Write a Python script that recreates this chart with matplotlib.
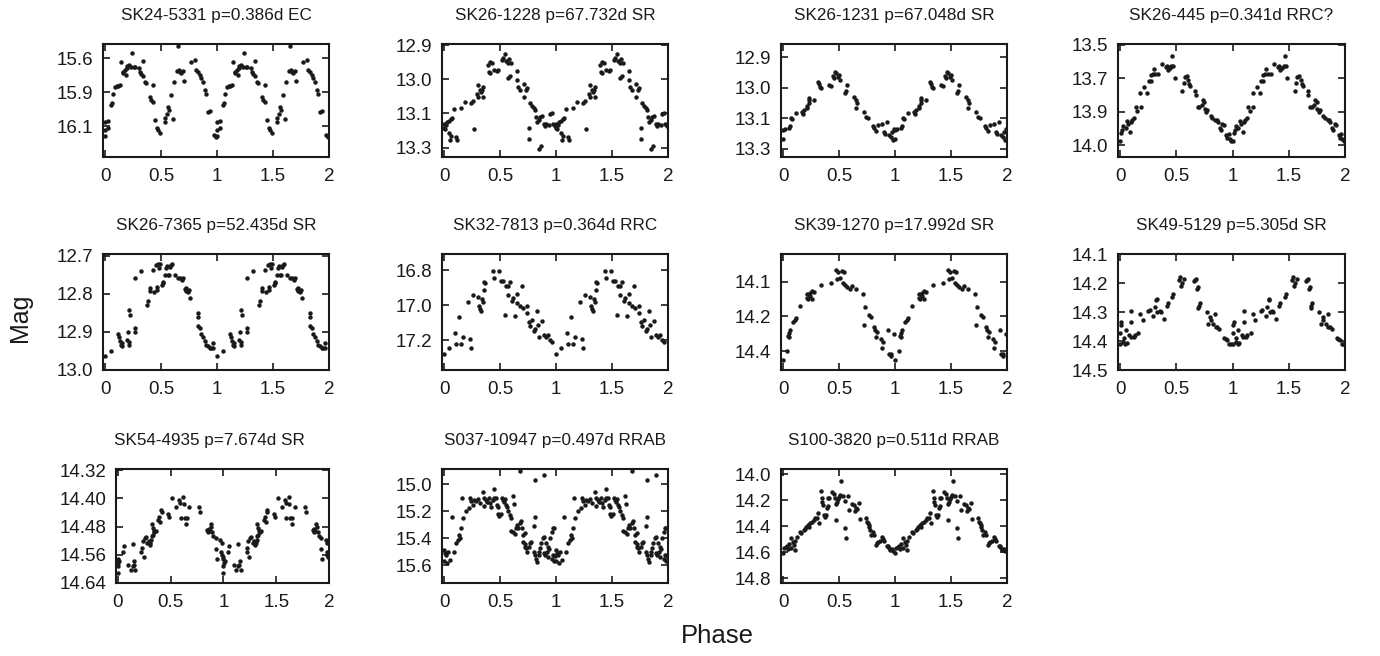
import numpy as np
import matplotlib.pyplot as plt

plt.rcParams['font.family'] = ['Liberation Sans', 'DejaVu Sans']

# folded light curves, one period each (phase, mag); shown twice on 0..2
sk24_5331 = [
    (0.00, 16.068), (0.00, 16.13), (0.00, 16.17), (0.03, 16.063), (0.025, 16.11),
    (0.055, 15.945), (0.06, 15.932), (0.07, 15.859), (0.09, 15.81), (0.105, 15.804),
    (0.12, 15.80), (0.135, 15.795), (0.145, 15.625), (0.16, 15.70), (0.165, 15.71),
    (0.175, 15.686), (0.19, 15.723), (0.195, 15.674), (0.20, 15.657), (0.215, 15.65),
    (0.23, 15.662), (0.24, 15.558), (0.255, 15.662), (0.27, 15.666), (0.30, 15.674),
    (0.31, 15.70), (0.325, 15.716), (0.335, 15.73), (0.335, 15.617), (0.355, 15.772),
    (0.37, 15.78), (0.40, 15.883), (0.415, 15.908), (0.425, 15.92), (0.43, 15.797),
    (0.45, 16.056), (0.46, 16.11), (0.475, 16.13), (0.49, 16.149), (0.535, 16.068),
    (0.54, 16.043), (0.55, 16.01), (0.565, 15.957), (0.575, 15.982), (0.585, 15.871),
    (0.61, 16.048), (0.62, 15.772), (0.64, 15.69), (0.65, 15.51), (0.66, 15.686),
    (0.67, 15.70), (0.68, 15.71), (0.695, 15.694), (0.705, 15.765), (0.77, 15.625),
    (0.80, 15.612), (0.815, 15.686), (0.83, 15.70), (0.845, 15.723), (0.86, 15.748),
    (0.875, 15.772), (0.89, 15.834), (0.90, 15.859), (0.92, 15.994), (0.935, 15.989),
    (0.975, 16.166), (0.99, 16.179),
]
sk26_1228 = [
    (0.00, 13.222), (0.00, 13.206), (0.01, 13.229), (0.02, 13.212), (0.03, 13.199),
    (0.045, 13.195), (0.06, 13.19), (0.075, 13.186), (0.045, 13.245), (0.055, 13.269),
    (0.065, 13.255), (0.11, 13.258), (0.12, 13.269), (0.085, 13.151), (0.15, 13.147),
    (0.19, 13.121), (0.245, 13.125), (0.26, 13.117), (0.27, 13.229), (0.295, 13.091),
    (0.30, 13.101), (0.32, 13.075), (0.33, 13.082), (0.345, 13.062), (0.30, 13.056),
    (0.34, 13.075), (0.35, 13.104), (0.39, 12.977), (0.40, 13.003), (0.41, 13.01),
    (0.415, 12.964), (0.43, 12.971), (0.45, 12.997), (0.47, 12.999), (0.48, 12.997),
    (0.52, 12.958), (0.53, 12.951), (0.545, 12.934), (0.555, 12.96), (0.57, 12.968),
    (0.58, 12.955), (0.60, 12.971), (0.575, 13.029), (0.585, 13.02), (0.65, 12.999),
    (0.655, 13.036), (0.665, 13.065), (0.68, 13.075), (0.715, 13.052), (0.73, 13.075),
    (0.74, 13.069), (0.71, 13.101), (0.77, 13.125), (0.785, 13.138), (0.80, 13.147),
    (0.815, 13.154), (0.82, 13.182), (0.83, 13.199), (0.845, 13.193), (0.86, 13.18),
    (0.875, 13.177), (0.89, 13.206), (0.90, 13.216), (0.915, 13.208), (0.935, 13.212),
    (0.95, 13.169), (0.96, 13.164), (0.755, 13.225), (0.755, 13.265), (0.85, 13.304),
    (0.87, 13.295), (0.975, 13.208), (0.99, 13.216),
]
sk26_1231 = [
    (0.00, 13.26), (0.00, 13.219), (0.015, 13.216), (0.05, 13.208), (0.06, 13.199),
    (0.07, 13.164), (0.08, 13.172), (0.12, 13.143), (0.17, 13.139), (0.18, 13.149),
    (0.19, 13.131), (0.21, 13.124), (0.215, 13.114), (0.23, 13.099), (0.235, 13.085),
    (0.23, 13.079), (0.275, 13.085), (0.31, 13.007), (0.32, 13.017), (0.33, 13.029),
    (0.34, 13.036), (0.415, 13.022), (0.43, 13.026), (0.445, 12.982), (0.455, 12.992),
    (0.465, 12.963), (0.475, 12.97), (0.49, 12.985), (0.50, 12.976), (0.51, 12.997),
    (0.555, 13.058), (0.565, 13.047), (0.575, 13.022), (0.635, 13.073), (0.65, 13.087),
    (0.655, 13.124), (0.665, 13.102), (0.725, 13.139), (0.74, 13.161), (0.755, 13.168),
    (0.80, 13.202), (0.815, 13.208), (0.83, 13.222), (0.845, 13.197), (0.88, 13.19),
    (0.90, 13.227), (0.915, 13.237), (0.93, 13.183), (0.945, 13.241), (0.96, 13.249),
    (0.975, 13.227), (0.985, 13.263), (0.99, 13.212),
]
sk26_445 = [
    (0.00, 13.979), (0.01, 13.939), (0.02, 13.922), (0.03, 13.906), (0.05, 13.914),
    (0.065, 13.881), (0.075, 13.893), (0.09, 13.934), (0.10, 13.884), (0.11, 13.876),
    (0.125, 13.863), (0.14, 13.81), (0.155, 13.83), (0.185, 13.81), (0.18, 13.741),
    (0.215, 13.711), (0.24, 13.741), (0.255, 13.682), (0.275, 13.653), (0.275, 13.682),
    (0.29, 13.645), (0.30, 13.62), (0.315, 13.645), (0.34, 13.645), (0.37, 13.596),
    (0.405, 13.612), (0.415, 13.604), (0.425, 13.625), (0.44, 13.616), (0.455, 13.604),
    (0.465, 13.559), (0.475, 13.604), (0.485, 13.665), (0.555, 13.731), (0.565, 13.691),
    (0.575, 13.662), (0.595, 13.658), (0.605, 13.675), (0.615, 13.695), (0.625, 13.705),
    (0.67, 13.728), (0.675, 13.748), (0.69, 13.81), (0.705, 13.81), (0.725, 13.802),
    (0.735, 13.774), (0.75, 13.787), (0.755, 13.818), (0.765, 13.835), (0.775, 13.827),
    (0.805, 13.856), (0.82, 13.863), (0.845, 13.873), (0.86, 13.873), (0.87, 13.883),
    (0.885, 13.913), (0.895, 13.922), (0.91, 13.893), (0.92, 13.901), (0.945, 13.95),
    (0.955, 13.962), (0.965, 13.942), (0.975, 13.967), (0.99, 13.979),
]
sk26_7365 = [
    (0.00, 12.962), (0.055, 12.951), (0.12, 12.906), (0.125, 12.912), (0.135, 12.925),
    (0.14, 12.934), (0.15, 12.938), (0.155, 12.93), (0.20, 12.921), (0.21, 12.927),
    (0.21, 12.934), (0.215, 12.842), (0.22, 12.855), (0.205, 12.899), (0.265, 12.89),
    (0.265, 12.899), (0.265, 12.759), (0.325, 12.74), (0.375, 12.829), (0.385, 12.819),
    (0.40, 12.793), (0.405, 12.784), (0.43, 12.738), (0.435, 12.794), (0.455, 12.723),
    (0.46, 12.781), (0.465, 12.79), (0.475, 12.72), (0.49, 12.72), (0.485, 12.733),
    (0.505, 12.777), (0.515, 12.768), (0.52, 12.772), (0.535, 12.749), (0.545, 12.731),
    (0.555, 12.726), (0.565, 12.749), (0.575, 12.751), (0.58, 12.729), (0.59, 12.724),
    (0.60, 12.72), (0.625, 12.749), (0.655, 12.758), (0.67, 12.759), (0.685, 12.764),
    (0.695, 12.759), (0.71, 12.786), (0.72, 12.793), (0.725, 12.784), (0.74, 12.796),
    (0.75, 12.79), (0.755, 12.812), (0.83, 12.851), (0.83, 12.86), (0.83, 12.883),
    (0.845, 12.89), (0.86, 12.906), (0.875, 12.912), (0.89, 12.925), (0.905, 12.934),
    (0.92, 12.938), (0.935, 12.943), (0.95, 12.941), (0.965, 12.93), (0.965, 12.943),
]
sk32_7813 = [
    (0.00, 17.279), (0.045, 17.243), (0.095, 17.161), (0.11, 17.224), (0.13, 17.07),
    (0.15, 17.224), (0.17, 17.184), (0.21, 16.983), (0.23, 17.194), (0.245, 17.247),
    (0.26, 16.944), (0.30, 16.952), (0.31, 17.003), (0.32, 17.023), (0.33, 17.036),
    (0.34, 16.967), (0.35, 16.983), (0.355, 16.914), (0.37, 16.873), (0.36, 16.869),
    (0.44, 16.806), (0.45, 16.845), (0.49, 16.806), (0.51, 16.859), (0.525, 16.859),
    (0.545, 17.056), (0.555, 16.893), (0.57, 16.944), (0.575, 16.893), (0.59, 16.865),
    (0.605, 16.977), (0.62, 16.958), (0.635, 17.062), (0.65, 16.987), (0.655, 16.938),
    (0.675, 17.003), (0.695, 16.889), (0.705, 17.017), (0.74, 17.007), (0.745, 17.042),
    (0.755, 17.096), (0.77, 17.121), (0.785, 17.086), (0.80, 17.145), (0.815, 17.135),
    (0.83, 17.036), (0.835, 17.115), (0.85, 17.18), (0.875, 17.09), (0.89, 17.168),
    (0.91, 17.18), (0.93, 17.168), (0.945, 17.20), (0.96, 17.208),
]
sk39_1270 = [
    (0.00, 14.437), (0.04, 14.40), (0.045, 14.333), (0.05, 14.323), (0.06, 14.311),
    (0.055, 14.341), (0.09, 14.274), (0.105, 14.266), (0.12, 14.259), (0.155, 14.204),
    (0.21, 14.17), (0.215, 14.155), (0.22, 14.177), (0.24, 14.162), (0.245, 14.148),
    (0.26, 14.177), (0.26, 14.14), (0.275, 14.145), (0.335, 14.115), (0.425, 14.106),
    (0.475, 14.051), (0.49, 14.058), (0.485, 14.088), (0.505, 14.085), (0.525, 14.055),
    (0.545, 14.058), (0.535, 14.106), (0.555, 14.115), (0.575, 14.125), (0.595, 14.133),
    (0.615, 14.118), (0.655, 14.133), (0.71, 14.155), (0.72, 14.289), (0.735, 14.211),
    (0.77, 14.244), (0.785, 14.251), (0.815, 14.296), (0.82, 14.308), (0.83, 14.341),
    (0.84, 14.318), (0.875, 14.348), (0.89, 14.363), (0.88, 14.388), (0.935, 14.308),
    (0.95, 14.412), (0.96, 14.422), (0.965, 14.415), (0.99, 14.326),
]
sk49_5129 = [
    (0.00, 14.412), (0.00, 14.374), (0.005, 14.344), (0.01, 14.333), (0.03, 14.402),
    (0.035, 14.388), (0.045, 14.412), (0.05, 14.363), (0.06, 14.406), (0.08, 14.379),
    (0.095, 14.386), (0.10, 14.298), (0.10, 14.336), (0.12, 14.386), (0.13, 14.379),
    (0.16, 14.374), (0.18, 14.307), (0.20, 14.328), (0.25, 14.295), (0.265, 14.293),
    (0.295, 14.313), (0.31, 14.284), (0.32, 14.26), (0.325, 14.255), (0.33, 14.301),
    (0.355, 14.295), (0.36, 14.301), (0.39, 14.324), (0.415, 14.278), (0.425, 14.27),
    (0.465, 14.249), (0.475, 14.237), (0.525, 14.188), (0.535, 14.179), (0.545, 14.212),
    (0.555, 14.20), (0.57, 14.185), (0.655, 14.193), (0.665, 14.191), (0.675, 14.185),
    (0.68, 14.22), (0.69, 14.214), (0.695, 14.286), (0.70, 14.278), (0.71, 14.27),
    (0.77, 14.301), (0.785, 14.342), (0.80, 14.316), (0.805, 14.328), (0.83, 14.34),
    (0.845, 14.307), (0.85, 14.351), (0.865, 14.353), (0.88, 14.359), (0.925, 14.391),
    (0.94, 14.394), (0.955, 14.398), (0.97, 14.412), (0.985, 14.412),
]
sk54_4935 = [
    (0.00, 14.612), (0.00, 14.593), (0.005, 14.583), (0.015, 14.577), (0.00, 14.571),
    (0.045, 14.551), (0.055, 14.534), (0.10, 14.59), (0.12, 14.602), (0.14, 14.593),
    (0.14, 14.53), (0.155, 14.577), (0.165, 14.602), (0.15, 14.588), (0.22, 14.551),
    (0.225, 14.541), (0.235, 14.522), (0.245, 14.565), (0.255, 14.513), (0.265, 14.511),
    (0.28, 14.527), (0.29, 14.52), (0.30, 14.532), (0.305, 14.527), (0.315, 14.518),
    (0.32, 14.508), (0.33, 14.504), (0.32, 14.473), (0.33, 14.483), (0.34, 14.492),
    (0.345, 14.496), (0.36, 14.492), (0.38, 14.461), (0.39, 14.452), (0.40, 14.466),
    (0.41, 14.433), (0.415, 14.44), (0.475, 14.445), (0.485, 14.452), (0.515, 14.40),
    (0.55, 14.426), (0.58, 14.405), (0.59, 14.414), (0.595, 14.455), (0.62, 14.395),
    (0.625, 14.417), (0.635, 14.455), (0.645, 14.473), (0.65, 14.455), (0.675, 14.426),
    (0.77, 14.426), (0.78, 14.438), (0.845, 14.489), (0.855, 14.496), (0.86, 14.487),
    (0.87, 14.494), (0.88, 14.473), (0.885, 14.48), (0.895, 14.496), (0.905, 14.508),
    (0.925, 14.513), (0.925, 14.543), (0.935, 14.571), (0.97, 14.518), (0.985, 14.527),
    (0.98, 14.551), (0.985, 14.56), (0.995, 14.567),
]
s037_10947 = [
    (0.00, 15.486), (0.00, 15.573), (0.01, 15.511), (0.02, 15.523), (0.03, 15.585),
    (0.035, 15.499), (0.05, 15.56), (0.07, 15.24), (0.09, 15.504), (0.11, 15.437),
    (0.125, 15.412), (0.13, 15.375), (0.14, 15.395), (0.15, 15.326), (0.16, 15.099),
    (0.17, 15.252), (0.20, 15.198), (0.22, 15.178), (0.23, 15.099), (0.245, 15.123),
    (0.26, 15.153), (0.265, 15.116), (0.29, 15.123), (0.30, 15.109), (0.325, 15.141),
    (0.345, 15.059), (0.355, 15.099), (0.36, 15.158), (0.375, 15.116), (0.385, 15.128),
    (0.405, 15.104), (0.415, 15.141), (0.42, 15.165), (0.435, 15.116), (0.445, 15.035),
    (0.45, 15.104), (0.465, 15.104), (0.475, 15.153), (0.48, 15.222), (0.485, 15.165),
    (0.495, 15.232), (0.51, 15.222), (0.515, 15.104), (0.525, 15.116), (0.535, 15.128),
    (0.545, 15.109), (0.555, 15.153), (0.565, 15.165), (0.575, 15.198), (0.585, 15.227),
    (0.595, 15.252), (0.615, 15.084), (0.625, 15.148), (0.60, 15.346), (0.615, 15.356),
    (0.63, 15.37), (0.645, 15.321), (0.655, 15.301), (0.665, 15.321), (0.675, 15.289),
    (0.69, 15.272), (0.695, 15.326), (0.675, 14.901), (0.705, 15.375), (0.72, 15.363),
    (0.705, 15.43), (0.72, 15.444), (0.725, 15.462), (0.735, 15.474), (0.74, 15.504),
    (0.755, 15.469), (0.765, 15.437), (0.78, 15.425), (0.80, 15.306), (0.815, 15.24),
    (0.815, 14.968), (0.805, 15.499), (0.815, 15.528), (0.82, 15.553), (0.83, 15.578),
    (0.845, 15.528), (0.85, 15.499), (0.86, 15.474), (0.87, 15.437), (0.88, 15.40),
    (0.89, 15.388), (0.895, 14.931), (0.895, 15.511), (0.90, 15.523), (0.91, 15.437),
    (0.92, 15.499), (0.925, 15.543), (0.93, 15.462), (0.94, 15.479), (0.95, 15.395),
    (0.96, 15.356), (0.97, 15.326), (0.98, 15.326), (0.96, 15.553), (0.97, 15.523),
    (0.985, 15.568), (0.995, 15.536),
]
s100_3820 = [
    (0.00, 14.608), (0.01, 14.569), (0.025, 14.564), (0.04, 14.549), (0.045, 14.574),
    (0.055, 14.538), (0.07, 14.569), (0.075, 14.492), (0.09, 14.523), (0.10, 14.544),
    (0.105, 14.582), (0.11, 14.513), (0.125, 14.487), (0.15, 14.446), (0.165, 14.454),
    (0.185, 14.428), (0.195, 14.42), (0.205, 14.403), (0.225, 14.39), (0.235, 14.41),
    (0.245, 14.377), (0.26, 14.364), (0.275, 14.351), (0.29, 14.338), (0.305, 14.333),
    (0.315, 14.30), (0.325, 14.377), (0.335, 14.128), (0.345, 14.185), (0.35, 14.21),
    (0.355, 14.236), (0.365, 14.313), (0.375, 14.326), (0.385, 14.313), (0.395, 14.262),
    (0.40, 14.241), (0.40, 14.185), (0.415, 14.179), (0.44, 14.138), (0.455, 14.154),
    (0.46, 14.179), (0.475, 14.231), (0.48, 14.21), (0.49, 14.19), (0.50, 14.172),
    (0.51, 14.159), (0.52, 14.051), (0.475, 14.351), (0.54, 14.164), (0.55, 14.205),
    (0.555, 14.415), (0.56, 14.492), (0.58, 14.164), (0.585, 14.274), (0.62, 14.231),
    (0.63, 14.236), (0.645, 14.282), (0.65, 14.262), (0.66, 14.267), (0.675, 14.223),
    (0.69, 14.344), (0.74, 14.333), (0.75, 14.364), (0.755, 14.377), (0.765, 14.39),
    (0.77, 14.403), (0.78, 14.428), (0.785, 14.467), (0.80, 14.441), (0.81, 14.467),
    (0.83, 14.544), (0.835, 14.531), (0.85, 14.523), (0.865, 14.518), (0.88, 14.487),
    (0.895, 14.497), (0.905, 14.513), (0.925, 14.549), (0.935, 14.556), (0.945, 14.569),
    (0.955, 14.582), (0.97, 14.574), (0.985, 14.595),
]

stars = [sk24_5331, sk26_1228, sk26_1231, sk26_445, sk26_7365, sk32_7813,
         sk39_1270, sk49_5129, sk54_4935, s037_10947, s100_3820]
titles = ['SK24-5331 p=0.386d EC', 'SK26-1228 p=67.732d SR',
          'SK26-1231 p=67.048d SR', 'SK26-445 p=0.341d RRC?',
          'SK26-7365 p=52.435d SR', 'SK32-7813 p=0.364d RRC',
          'SK39-1270 p=17.992d SR', 'SK49-5129 p=5.305d SR',
          'SK54-4935 p=7.674d SR', 'S037-10947 p=0.497d RRAB',
          'S100-3820 p=0.511d RRAB']
# y ticks (positions, labels) and y range (faint, bright)
ytick_vals = [[15.6, 15.85, 16.1], [12.9, 13.0333, 13.1667, 13.3],
              [12.9, 13.0333, 13.1667, 13.3], [13.5, 13.6667, 13.8333, 14.0],
              [12.7, 12.8, 12.9, 13.0], [16.8, 17.0, 17.2],
              [14.1, 14.25, 14.4], [14.1, 14.2, 14.3, 14.4, 14.5],
              [14.32, 14.40, 14.48, 14.56, 14.64], [15.0, 15.2, 15.4, 15.6],
              [14.0, 14.2, 14.4, 14.6, 14.8]]
ytick_labels = [['15.6', '15.9', '16.1'], ['12.9', '13.0', '13.1', '13.3'],
                ['12.9', '13.0', '13.1', '13.3'], ['13.5', '13.7', '13.9', '14.0'],
                ['12.7', '12.8', '12.9', '13.0'], ['16.8', '17.0', '17.2'],
                ['14.1', '14.2', '14.4'], ['14.1', '14.2', '14.3', '14.4', '14.5'],
                ['14.32', '14.40', '14.48', '14.56', '14.64'],
                ['15.0', '15.2', '15.4', '15.6'],
                ['14.0', '14.2', '14.4', '14.6', '14.8']]
ylims = [(16.327, 15.494), (13.337, 12.895), (13.337, 12.841), (14.058, 13.497),
         (13.0, 12.695), (17.371, 16.707), (14.482, 13.981), (14.5, 14.1),
         (14.64, 14.317), (15.733, 14.886), (14.838, 13.959)]
xticks = [0, 0.5, 1, 1.5, 2]
xtick_labels = ['0', '0.5', '1', '1.5', '2']

W, H = 1380, 656
fig = plt.figure(figsize=(W / 100, H / 100), dpi=100)

col_x = [(103, 329), (442, 668), (781, 1007), (1118, 1345)]
row_y = [(44, 157), (254, 370), (469, 583)]

for i, (data, title) in enumerate(zip(stars, titles)):
    r, c = divmod(i, 4)
    x0, x1 = col_x[c]
    if i == 8:
        x0 = 116
    y0, y1 = row_y[r]
    ax = fig.add_axes([x0 / W, 1 - y1 / H, (x1 - x0) / W, (y1 - y0) / H])
    ph = np.array([d[0] for d in data])
    mg = np.array([d[1] for d in data])
    ax.plot(np.concatenate([ph, ph + 1]), np.concatenate([mg, mg]), 'o',
            color='#1a1a1a', markersize=3.2, markeredgewidth=0)
    ax.set_xlim(-0.018, 2.0)
    ax.set_ylim(*ylims[i])
    ax.set_xticks(xticks)
    ax.set_xticklabels(xtick_labels)
    ax.set_yticks(ytick_vals[i])
    ax.set_yticklabels(ytick_labels[i])
    ax.tick_params(direction='in', top=True, right=True, length=5, width=1.2,
                   labelsize=13.5, colors='#1a1a1a')
    ax.tick_params(axis='x', pad=8)
    ax.tick_params(axis='y', pad=7)
    for s in ax.spines.values():
        s.set_linewidth(1.5)
        s.set_color('#1a1a1a')
    tx = 0.437 if i == 8 else 0.5
    ax.set_title(title, fontsize=12.3, pad=17, x=tx, color='#1a1a1a')

fig.text(20 / W, 1 - 318 / H, 'Mag', rotation=90, ha='center', va='center',
         fontsize=18, color='#1a1a1a')
fig.text(717 / W, 1 - 636 / H, 'Phase', ha='center', va='center',
         fontsize=18.5, color='#1a1a1a')

fig.savefig('out.png', dpi=100)
